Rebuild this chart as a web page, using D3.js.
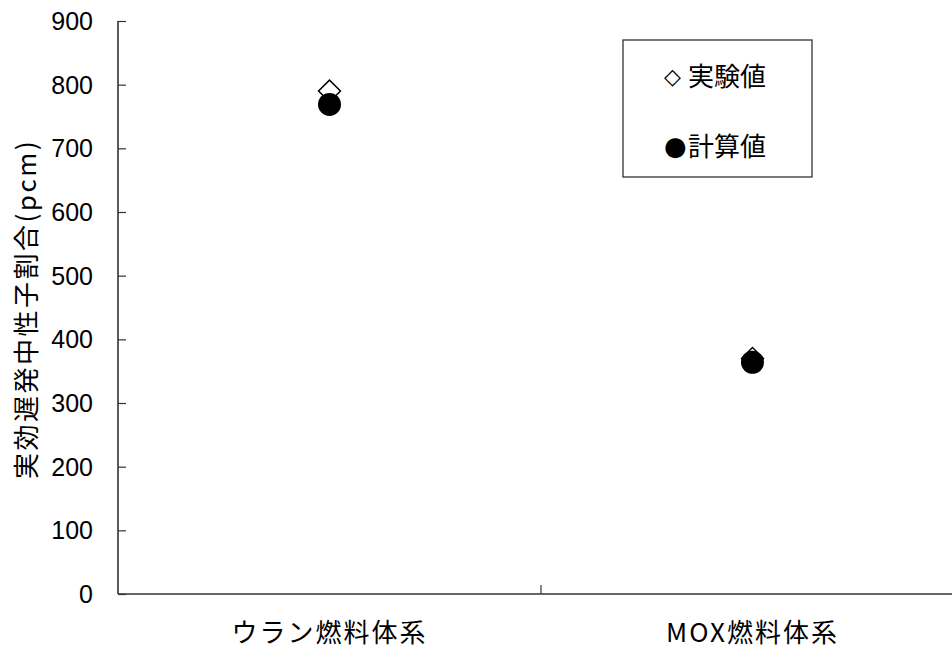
<!DOCTYPE html>
<html>
<head>
<meta charset="utf-8">
<script src="https://cdn.jsdelivr.net/npm/d3@7/dist/d3.min.js"></script>
<style>
html,body{margin:0;padding:0;background:#fff;}
svg{display:block;}
</style>
</head>
<body>
<svg id="chart" width="952" height="652"></svg>
<script>
const categories = ["ウラン燃料体系", "MOX燃料体系"];
const experimental = [790, 370];
const calculated = [769, 364];
const yTicks = [0, 100, 200, 300, 400, 500, 600, 700, 800, 900];
const legendSymbols = ["◇", "●"];
const legendLabels = ["実験値", "計算値"];
const yTitle = "実効遅発中性子割合(pcm)";

const svg = d3.select("#chart");
const plot = {left: 118, right: 964, top: 21, bottom: 594};
const jp = "'Noto Sans CJK JP', sans-serif";
const num = "'Liberation Sans', Arial, sans-serif";
const sym = "'DejaVu Sans', sans-serif";
const axisColor = "#333";

const x = d3.scaleBand().domain(categories).range([plot.left, plot.right]).padding(0);
const y = d3.scaleLinear().domain([0, 900]).range([plot.bottom, plot.top]);

// Y axis
const yAxis = d3.axisRight(y).tickValues(yTicks).tickSize(8).tickFormat("");
const gy = svg.append("g").attr("transform", `translate(${plot.left},0)`).call(yAxis);
gy.select(".domain").attr("d", `M0,${plot.top}V${plot.bottom}`).attr("stroke", axisColor).attr("stroke-width", 1.6);
gy.selectAll(".tick line").attr("stroke", axisColor).attr("stroke-width", 1.2);

// Y tick labels
svg.append("g").selectAll("text").data(yTicks).join("text")
  .attr("x", 93).attr("y", d => y(d))
  .attr("dy", "0.36em")
  .attr("text-anchor", "end")
  .attr("font-family", num).attr("font-size", 25)
  .attr("fill", "#000")
  .text(d => d);

// X axis
svg.append("line")
  .attr("x1", plot.left).attr("x2", plot.right)
  .attr("y1", y(0)).attr("y2", y(0))
  .attr("stroke", axisColor).attr("stroke-width", 1.6);
const boundaries = categories.map(c => x(c)).concat([x(categories[categories.length-1]) + x.bandwidth()]);
svg.append("g").selectAll("line").data(boundaries.slice(1)).join("line")
  .attr("x1", d => d).attr("x2", d => d)
  .attr("y1", y(0)).attr("y2", y(0) - 9)
  .attr("stroke", axisColor).attr("stroke-width", 1.2);

// X labels
svg.append("g").selectAll("text").data(categories).join("text")
  .attr("x", d => x(d) + x.bandwidth() / 2)
  .attr("y", 642)
  .attr("text-anchor", "middle")
  .attr("font-family", jp).attr("font-size", 26)
  .attr("letter-spacing", "2px")
  .attr("fill", "#000")
  .text(d => d);

// Y title
svg.append("text")
  .attr("transform", `translate(36,${309}) rotate(-90)`)
  .attr("text-anchor", "middle")
  .attr("font-family", jp).attr("font-size", 26)
  .attr("letter-spacing", "2.5px")
  .attr("fill", "#000")
  .text(yTitle);

// Markers: experimental (diamond)
svg.append("g").selectAll("path").data(categories).join("path")
  .attr("d", d3.symbol().type(d3.symbolSquare).size(240))
  .attr("transform", (d, i) => `translate(${x(d) + x.bandwidth()/2},${y(experimental[i])}) rotate(45)`)
  .attr("fill", "#fff").attr("stroke", "#000").attr("stroke-width", 1.5);

// calculated (circle)
svg.append("g").selectAll("circle").data(categories).join("circle")
  .attr("cx", d => x(d) + x.bandwidth()/2)
  .attr("cy", (d, i) => y(calculated[i]))
  .attr("r", 11.5)
  .attr("fill", "#000");

// Legend
svg.append("rect")
  .attr("x", 623).attr("y", 40).attr("width", 189).attr("height", 137)
  .attr("fill", "#fff").attr("stroke", axisColor).attr("stroke-width", 1.3);
const lg = svg.append("g").selectAll("g").data(legendLabels).join("g")
  .attr("transform", (d, i) => `translate(0,${86 + i * 70})`);
lg.append("text")
  .attr("x", 664).attr("y", (d, i) => i === 0 ? -2 : -1)
  .attr("font-family", sym).attr("font-size", (d, i) => i === 0 ? 22 : 26)
  .attr("fill", "#000")
  .text((d, i) => legendSymbols[i]);
lg.append("text")
  .attr("x", 688).attr("y", 0)
  .attr("font-family", jp).attr("font-size", 26)
  .attr("fill", "#000")
  .text(d => d);
</script>
</body>
</html>
